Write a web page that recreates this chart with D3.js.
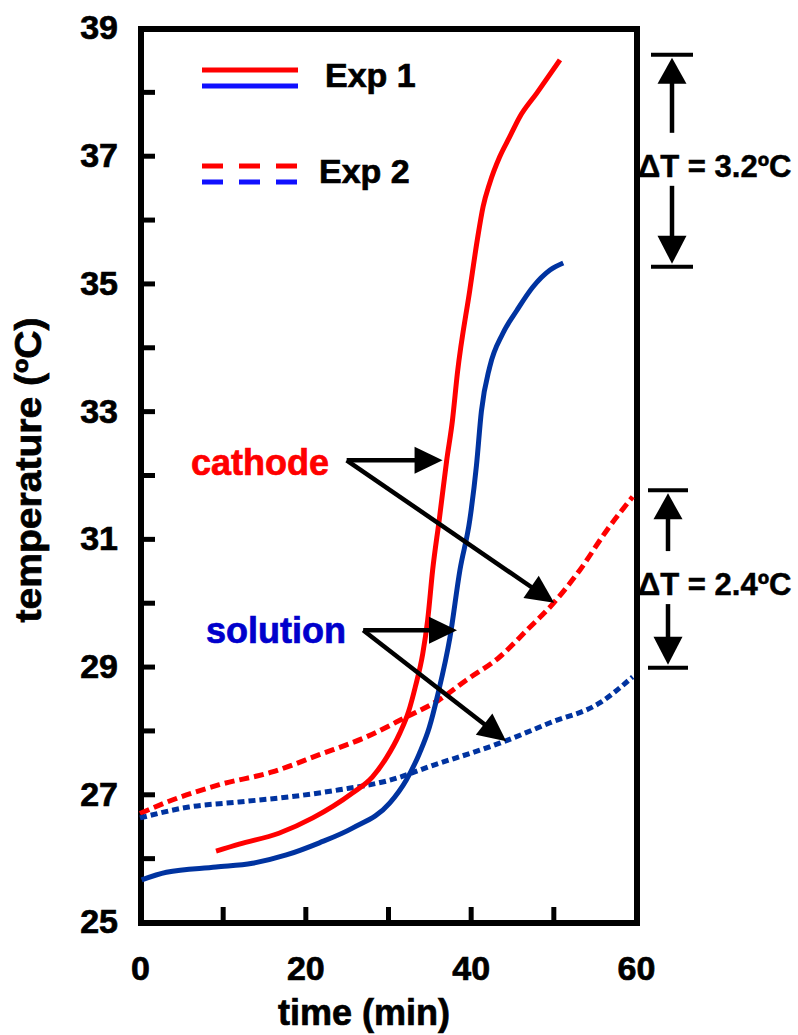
<!DOCTYPE html>
<html>
<head>
<meta charset="utf-8">
<script src="https://cdn.jsdelivr.net/npm/d3@7/dist/d3.min.js"></script>
<style>
  html, body { margin: 0; padding: 0; background: #ffffff; }
  svg { display: block; }
  text { font-family: Arial, "Liberation Sans", Helvetica, sans-serif; font-weight: bold; }
</style>
</head>
<body>
<svg id="chart" width="798" height="1035"></svg>
<script>
// ---- data: time (min) and temperature (°C) for each run ----
const exp1CathodeTime = [9.2, 12.0, 16.8, 20.9, 25.7, 28.1, 29.8, 31.4, 32.5, 33.3, 34.2, 34.8, 35.4, 36.2, 37.1, 37.8, 38.4, 39.9, 40.8, 41.5, 42.3, 43.5, 44.7, 45.9, 48.0, 50.8];
const exp1CathodeTemp = [26.11, 26.22, 26.39, 26.63, 27.02, 27.27, 27.57, 27.95, 28.30, 28.68, 29.20, 29.73, 30.51, 31.30, 32.23, 32.86, 33.60, 34.90, 35.68, 36.20, 36.57, 36.98, 37.29, 37.60, 37.98, 38.50];

const exp1SolutionTime = [0.2, 3.2, 9.2, 13.6, 17.7, 21.7, 25.7, 30.2, 32.2, 33.8, 35.0, 36.0, 37.5, 38.7, 39.9, 40.7, 41.3, 42.3, 43.9, 45.6, 47.5, 49.6, 51.2];
const exp1SolutionTemp = [25.66, 25.78, 25.86, 25.92, 26.05, 26.24, 26.47, 26.86, 27.22, 27.64, 28.05, 28.55, 29.46, 30.51, 31.30, 32.15, 33.00, 33.69, 34.22, 34.58, 34.94, 35.21, 35.32];

const exp2CathodeTime = [0.0, 3.9, 9.6, 16.0, 21.7, 27.4, 32.2, 36.2, 39.5, 43.5, 46.8, 50.0, 53.2, 56.5, 59.6];
const exp2CathodeTemp = [26.70, 26.91, 27.15, 27.35, 27.62, 27.90, 28.21, 28.48, 28.79, 29.15, 29.57, 29.99, 30.51, 31.14, 31.66];

const exp2SolutionTime = [0.0, 5.9, 12.0, 18.1, 24.1, 30.2, 35.8, 41.1, 43.5, 49.6, 55.6, 59.6];
const exp2SolutionTemp = [26.63, 26.80, 26.88, 26.96, 27.07, 27.22, 27.47, 27.69, 27.80, 28.12, 28.43, 28.84];

// axis ticks and labels
const xTicks = [0, 10, 20, 30, 40, 50, 60];
const xTickLabels = [0, 20, 40, 60];
const yTicks = [25, 26, 27, 28, 29, 30, 31, 32, 33, 34, 35, 36, 37, 38, 39];
const yTickLabels = [25, 27, 29, 31, 33, 35, 37, 39];

// temperature-difference brackets: [upper, lower] in °C, and their labels
const bracketTop = [38.58, 35.26];
const bracketBottom = [31.76, 28.98];
const bracketLabels = ["\u0394T = 3.2\u00baC", "\u0394T = 2.4\u00baC"];

// callout arrows: origin and targets as [time, temperature]
const cathodeOrigin = [25.0, 32.23];
const cathodeTargets = [[36.6, 32.23], [50.1, 30.0]];
const solutionOrigin = [27.0, 29.57];
const solutionTargets = [[38.35, 29.57], [44.3, 27.83]];

// ---- drawing ----
const RED = "#ff0000";
const NAVY = "#0033a0";
const svg = d3.select("#chart");

const x = d3.scaleLinear().domain([0, 60]).range([140, 636]);
const y = d3.scaleLinear().domain([25, 39]).range([922, 28]);

// heavier lettering: bold face plus a thin outline in the fill colour
function heavy(sel, color = "#000", w = 0.7) {
  sel.attr("fill", color).attr("stroke", color).attr("stroke-width", w);
  return sel;
}

// bottom axis with inward ticks
const xAxis = d3.axisBottom(x)
  .tickValues(xTicks)
  .tickSize(-15)
  .tickPadding(34)
  .tickFormat(d => xTickLabels.includes(d) ? d : "");
const gx = svg.append("g").attr("transform", `translate(0,${y(25)})`).call(xAxis);

// left axis with inward ticks
const yAxis = d3.axisLeft(y)
  .tickValues(yTicks)
  .tickSize(-15)
  .tickPadding(22)
  .tickFormat(d => yTickLabels.includes(d) ? d : "");
const gy = svg.append("g").attr("transform", `translate(${x(0)},0)`).call(yAxis);

[gx, gy].forEach(g => {
  g.select(".domain").remove();
  g.selectAll(".tick line").attr("stroke", "#000").attr("stroke-width", 5);
  heavy(g.selectAll(".tick text"))
    .style("font-size", "34px")
    .style("font-family", "Arial, 'Liberation Sans', sans-serif")
    .style("font-weight", "bold");
});

// plot frame
svg.append("rect")
  .attr("x", x(0) + 1).attr("y", y(39) + 1)
  .attr("width", x(60) - x(0)).attr("height", y(25) - y(39))
  .attr("fill", "none").attr("stroke", "#000").attr("stroke-width", 6);

// axis titles
heavy(svg.append("text")
  .attr("x", 364).attr("y", 1025)
  .attr("text-anchor", "middle")
  .style("font-size", "36px")
  .text("time (min)"));

heavy(svg.append("text")
  .attr("transform", "translate(41,470) rotate(-90)")
  .attr("text-anchor", "middle")
  .attr("textLength", 305)
  .attr("lengthAdjust", "spacingAndGlyphs")
  .style("font-size", "36px")
  .text("temperature (\u00baC)"));

// curves
const line = d3.line().x(d => x(d[0])).y(d => y(d[1])).curve(d3.curveMonotoneX);
const zip = (a, b) => a.map((v, i) => [v, b[i]]);

const series = [
  { t: exp2CathodeTime, v: exp2CathodeTemp, color: RED, dash: "10,5" },
  { t: exp2SolutionTime, v: exp2SolutionTemp, color: NAVY, dash: "7,4" },
  { t: exp1SolutionTime, v: exp1SolutionTemp, color: NAVY, dash: null },
  { t: exp1CathodeTime, v: exp1CathodeTemp, color: RED, dash: null }
];
series.forEach(s => {
  svg.append("path")
    .datum(zip(s.t, s.v))
    .attr("d", line)
    .attr("fill", "none")
    .attr("stroke", s.color)
    .attr("stroke-width", 5)
    .attr("stroke-dasharray", s.dash);
});

// legend
const legend = svg.append("g");
legend.append("line").attr("x1", 202).attr("x2", 298).attr("y1", 70).attr("y2", 70)
  .attr("stroke", RED).attr("stroke-width", 5);
legend.append("line").attr("x1", 202).attr("x2", 298).attr("y1", 86).attr("y2", 86)
  .attr("stroke", "#1010ff").attr("stroke-width", 5);
legend.append("line").attr("x1", 202).attr("x2", 298).attr("y1", 166).attr("y2", 166)
  .attr("stroke", RED).attr("stroke-width", 5).attr("stroke-dasharray", "21,16");
legend.append("line").attr("x1", 202).attr("x2", 298).attr("y1", 182).attr("y2", 182)
  .attr("stroke", "#1010ff").attr("stroke-width", 5).attr("stroke-dasharray", "21,16");
heavy(legend.append("text").attr("x", 325).attr("y", 87).style("font-size", "34px").text("Exp 1"));
heavy(legend.append("text").attr("x", 319).attr("y", 183).style("font-size", "34px").text("Exp 2"));

// arrow helper: shaft plus a filled triangular head ending at the target
function arrow(g, x1, y1, x2, y2, headLen = 28, headW = 27, width = 4.5) {
  const dx = x2 - x1, dy = y2 - y1;
  const len = Math.hypot(dx, dy);
  const ux = dx / len, uy = dy / len;
  const bx = x2 - ux * headLen, by = y2 - uy * headLen;
  g.append("line")
    .attr("x1", x1).attr("y1", y1).attr("x2", bx + ux * 2).attr("y2", by + uy * 2)
    .attr("stroke", "#000").attr("stroke-width", width);
  const px = -uy * headW / 2, py = ux * headW / 2;
  g.append("path")
    .attr("d", `M${x2},${y2}L${bx + px},${by + py}L${bx - px},${by - py}Z`)
    .attr("fill", "#000");
}

// callouts
const callouts = svg.append("g");
heavy(callouts.append("text").attr("x", 191).attr("y", 475)
  .style("font-size", "36px").text("cathode"), RED);
heavy(callouts.append("text").attr("x", 206).attr("y", 643)
  .style("font-size", "36px").text("solution"), "#0000cc");
cathodeTargets.forEach(p => arrow(callouts, x(cathodeOrigin[0]), y(cathodeOrigin[1]), x(p[0]), y(p[1])));
solutionTargets.forEach(p => arrow(callouts, x(solutionOrigin[0]), y(solutionOrigin[1]), x(p[0]), y(p[1])));

// temperature-difference brackets
function bracket(g, cx, hi, lo, label, barHalf) {
  const yTop = y(hi), yBot = y(lo), mid = (yTop + yBot) / 2;
  g.append("line").attr("x1", cx - barHalf).attr("x2", cx + barHalf).attr("y1", yTop).attr("y2", yTop)
    .attr("stroke", "#000").attr("stroke-width", 4);
  g.append("line").attr("x1", cx - barHalf).attr("x2", cx + barHalf).attr("y1", yBot).attr("y2", yBot)
    .attr("stroke", "#000").attr("stroke-width", 4);
  arrow(g, cx, mid - 28, cx, yTop + 3, 26, 29, 4.5);
  arrow(g, cx, mid + 25, cx, yBot - 3, 28, 29, 4.5);
  heavy(g.append("text").attr("x", 638).attr("y", mid + 16)
    .style("font-size", "31px").text(label), "#000", 0.5);
}
const brackets = svg.append("g");
bracket(brackets, 672, bracketTop[0], bracketTop[1], bracketLabels[0], 21);
bracket(brackets, 668, bracketBottom[0], bracketBottom[1], bracketLabels[1], 20);
</script>
</body>
</html>
